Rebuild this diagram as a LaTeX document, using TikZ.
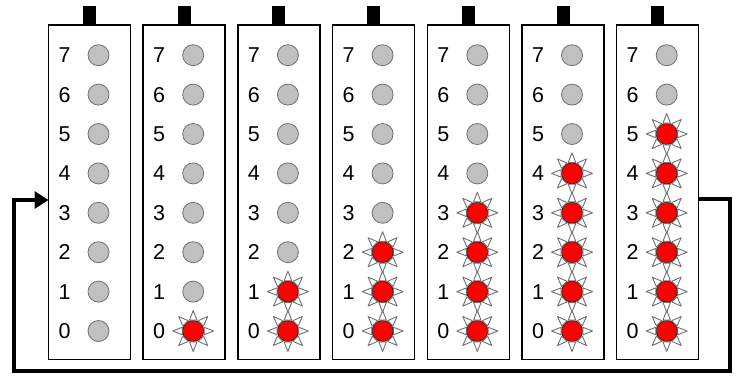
\documentclass[tikz,border=0pt]{standalone}
\usepackage{fontspec}
\setmainfont{Liberation Sans}
\usetikzlibrary{arrows.meta}
\definecolor{ledgray}{HTML}{C0C0C0}
\definecolor{ledline}{HTML}{707070}
\begin{document}
\begin{tikzpicture}[x=1pt,y=-1pt,
  panel/.style={draw=black,line width=1.5pt,fill=white,minimum width=82pt,minimum height=334.5pt,inner sep=0pt,outer sep=0pt},
  tab/.style={fill=black,minimum width=13pt,minimum height=19pt,inner sep=0pt,outer sep=0pt},
  digit/.style={font=\fontsize{21.5}{21.5}\selectfont,inner sep=0pt},
  ledoff/.style={circle,fill=ledgray,draw=ledline,line width=0.8pt,minimum size=21pt,inner sep=0pt},
  ledon/.style={circle,fill=red,draw=black!85,line width=0.8pt,minimum size=21pt,inner sep=0pt},
  ray/.style={draw=ledline,fill=white,line width=0.9pt,line join=round},
  feedback/.style={line width=3.5pt,-{Triangle[length=14pt,width=17pt]}}]
\useasboundingbox (0,0) rectangle (738,376);
\foreach \i in {0,...,6} {
  \pgfmathsetmacro\L{48.5+94.7*\i}
  \node[panel] (p\i) at (\L+41,192.25) {};
  \node[tab,anchor=south] (t\i) at (p\i.north) {};
  \foreach \k in {0,...,7} {
    \pgfmathsetmacro\Y{331-39.4*\k}
    \node[digit] (d\i\k) at (\L+16,\Y) {\k};
    \ifnum\k<\i
      \node[ledon] (l\i\k) at (\L+50,\Y) {};
      \foreach \a in {0,45,...,315} {
        \draw[ray] ([shift={(\a-19:11.5)}]l\i\k.center) -- ([shift={(\a:20.5)}]l\i\k.center) -- ([shift={(\a+19:11.5)}]l\i\k.center) -- cycle;
      }
    \else
      \node[ledoff] (l\i\k) at (\L+50,\Y) {};
    \fi
  }
}
\coordinate (ya) at (0,199);
\coordinate (yb) at (0,200);
\coordinate (c1) at (730,199);
\coordinate (c2) at (730,371);
\coordinate (c3) at (14,371);
\coordinate (c4) at (14,200);
\draw[feedback] (p6.east |- ya) -- (c1) -- (c2) -- (c3) -- (c4) -- (p0.west |- yb);
\end{tikzpicture}
\end{document}
